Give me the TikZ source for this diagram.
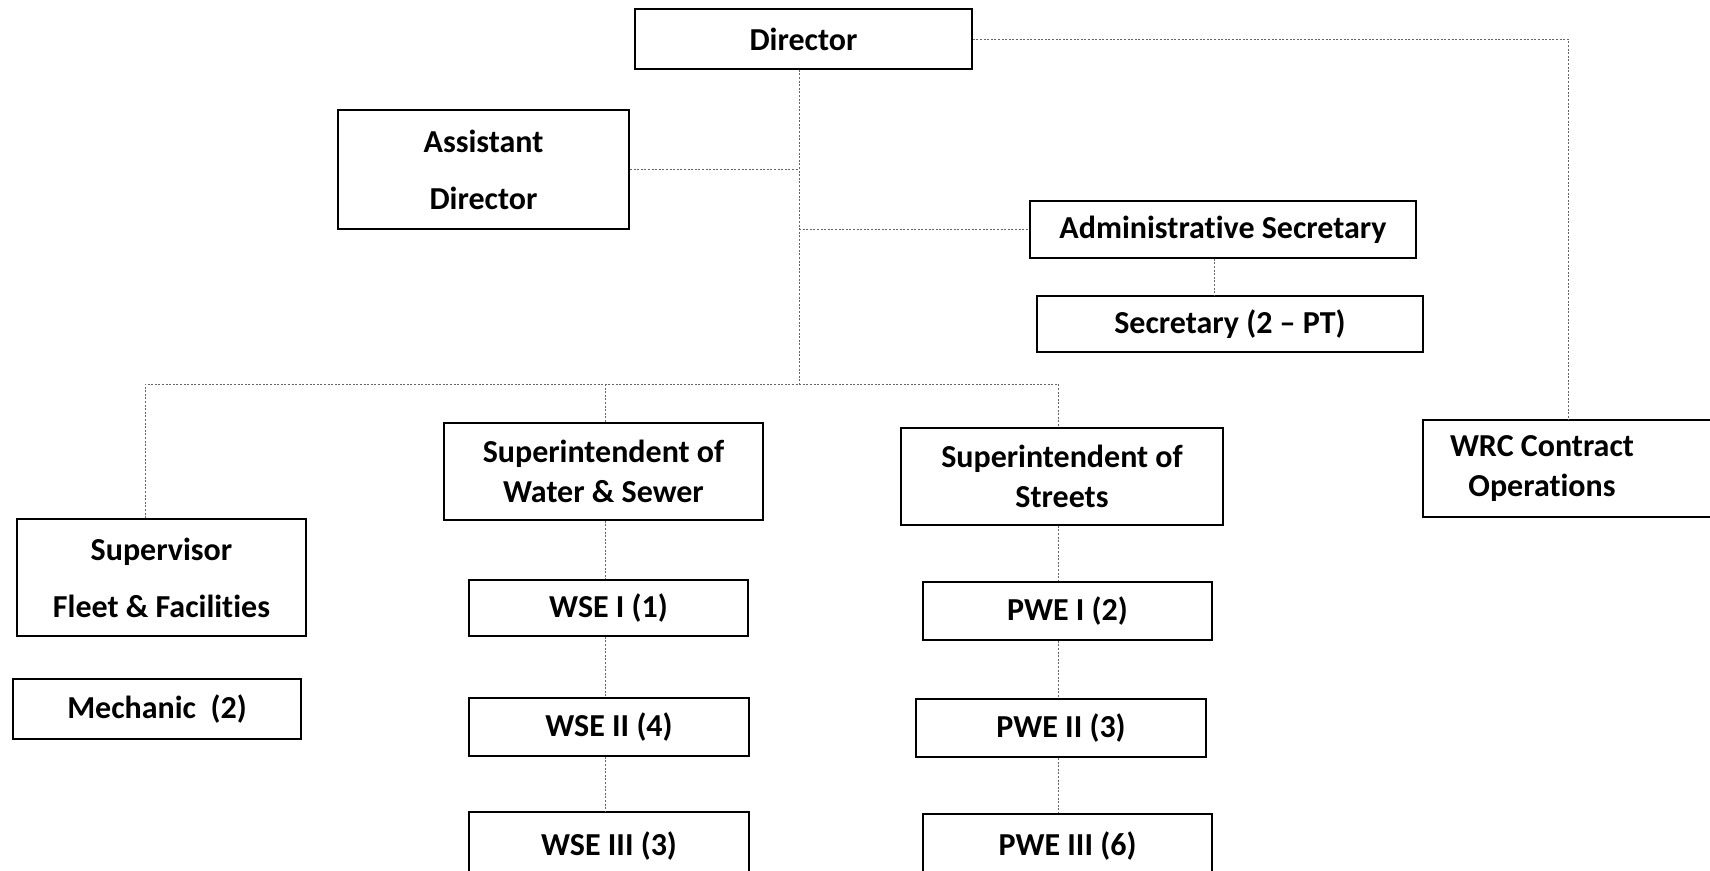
\documentclass[tikz,border=0pt]{standalone}
\usepackage{fontspec}
\setmainfont{Carlito}[Ligatures=NoCommon]
\begin{document}
\begin{tikzpicture}[x=0.5pt,y=-0.5pt,
  box/.style={draw=black,line width=0.8pt,inner sep=0pt,align=center,
    font=\fontsize{16}{20}\selectfont\bfseries},
  sz/.style 2 args={minimum width=#1*0.5pt,minimum height=#2*0.5pt},
  conn/.style={draw=black!60,line width=0.4pt,dash pattern=on 1pt off 0.8pt},
  txt/.style={inner sep=0pt,align=center,font=\fontsize{16}{20}\selectfont\bfseries}]
\useasboundingbox (0,0) rectangle (1710,871);
\clip (0,0) rectangle (1710,871);
% boxes
\node[box,sz={337}{60}] (dir) at (803.5,39) {Director};
\node[box,sz={291}{119},line width=1pt] (asst) at (483.5,169.5) {Assistant\\[8.5pt]Director};
\node[box,sz={386}{57}] (admin) at (1223,229.5) {Administrative Secretary};
\node[box,sz={386}{56}] (sec) at (1230,324) {Secretary (2 -- PT)};
\node[box,sz={289}{117}] (sup) at (161.5,577.5) {Supervisor\\[8.5pt]Fleet \& Facilities};
\node[box,sz={288}{60}] (mech) at (157,709) {Mechanic\ \ (2)};
\node[box,sz={319}{97}] (sws) at (603.5,471.5) {Superintendent of\\Water \& Sewer};
\node[box,sz={322}{97}] (sst) at (1062,476.5) {Superintendent of\\Streets};
\draw[draw=black,line width=0.8pt] (1423,420) rectangle (1725,517);
\node[txt] (wrc) at (1542,468.5) {WRC Contract\\Operations};
\node[box,sz={279}{56}] (wse1) at (608.5,608) {WSE I (1)};
\node[box,sz={280}{58}] (wse2) at (609,727) {WSE II (4)};
\node[box,sz={280}{68},line width=1pt] (wse3) at (609,846) {WSE III (3)};
\node[box,sz={289}{58}] (pwe1) at (1067.5,611) {PWE I (2)};
\node[box,sz={290}{58},line width=1pt] (pwe2) at (1061,728) {PWE II (3)};
\node[box,sz={289}{64},line width=1pt] (pwe3) at (1067.5,846) {PWE III (6)};
% junction coordinates
\coordinate (j) at (799,384);
\coordinate (bL) at (145,384);
\coordinate (bW) at (605,384);
\coordinate (bS) at (1058,384);
\coordinate (as) at (1214,0);
\coordinate (wrctop) at (1568,420);
% connectors
\draw[conn] (dir.south -| j) -- (j);
\draw[conn] (asst.east) -- (asst.east -| j);
\draw[conn] (admin.west -| j) -- (admin.west);
\draw[conn] (admin.south -| as) -- (sec.north -| as);
\draw[conn] (sup.north -| bL) -- (bL) -- (bS) -- (sst.north -| bS);
\draw[conn] (bW) -- (sws.north -| bW);
\draw[conn] (dir.east) -| (wrctop);
\draw[conn] (sws.south -| bW) -- (wse1.north -| bW);
\draw[conn] (wse1.south -| bW) -- (wse2.north -| bW);
\draw[conn] (wse2.south -| bW) -- (wse3.north -| bW);
\draw[conn] (sst.south -| bS) -- (pwe1.north -| bS);
\draw[conn] (pwe1.south -| bS) -- (pwe2.north -| bS);
\draw[conn] (pwe2.south -| bS) -- (pwe3.north -| bS);
\end{tikzpicture}
\end{document}
